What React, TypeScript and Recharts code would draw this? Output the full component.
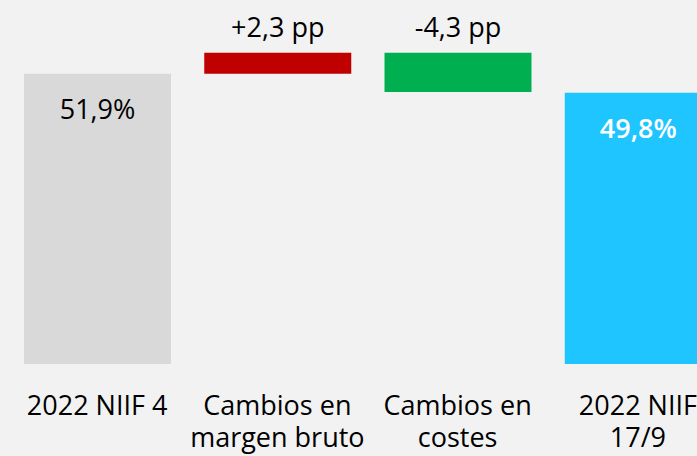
import React from 'react';
import { BarChart, Bar, XAxis, YAxis, Cell, LabelList } from 'recharts';

// Margin bridge: 2022 IFRS 4 -> 2022 IFRS 17/9
const categoryLines = [
  ['2022 NIIF 4'],
  ['Cambios en', 'margen bruto'],
  ['Cambios en', 'costes'],
  ['2022 NIIF', '17/9'],
];
const categories = categoryLines.map((lines) => lines.join(' '));
const kinds = ['total', 'delta', 'delta', 'total'];
const values = [51.9, 2.3, -4.3, 49.8];

const barColors = ['#d9d9d9', '#c00000', '#00b050', '#1fc5ff'];
const labelColors = ['#000000', '#000000', '#000000', '#ffffff'];
const labelWeights = [400, 400, 400, 600];

const AXIS_MIN = 20;
const AXIS_MAX = 60;
const FONT = '"Open Sans", "Noto Sans", sans-serif';
const FONT_SIZE = 27;
const LINE_HEIGHT = 32;

// Floating ranges for the waterfall: totals rise from the axis floor,
// deltas float between the running level before and after the change.
let level = 0;
const data = categories.map((name, i) => {
  const v = values[i];
  let range: [number, number];
  if (kinds[i] === 'total') {
    range = [AXIS_MIN, v];
    level = v;
  } else {
    const next = level + v;
    range = [Math.min(level, next), Math.max(level, next)];
    level = next;
  }
  return { name, range, value: v, kind: kinds[i] };
});

const fmt = (v: number) => v.toFixed(1).replace('.', ',');
const labelText = (i: number) => {
  const v = values[i];
  return kinds[i] === 'total' ? `${fmt(v)}%` : `${v > 0 ? '+' : ''}${fmt(v)} pp`;
};

const BarLabel = (props: any) => {
  const { x, y, width, index } = props;
  const cx = x + width / 2;
  const baseline = kinds[index] === 'total' ? y + 45 : y - 16;
  return (
    <text
      x={cx}
      y={baseline}
      textAnchor="middle"
      fontFamily={FONT}
      fontSize={FONT_SIZE}
      fontWeight={labelWeights[index]}
      fill={labelColors[index]}
    >
      {labelText(index)}
    </text>
  );
};

const CategoryTick = (props: any) => {
  const { x, y, index } = props;
  const lines = categoryLines[index] || [];
  return (
    <text
      x={x}
      y={y + 51}
      textAnchor="middle"
      fontFamily={FONT}
      fontSize={FONT_SIZE}
      fill="#000000"
    >
      {lines.map((line, k) => (
        <tspan key={k} x={x} dy={k === 0 ? 0 : LINE_HEIGHT}>
          {line}
        </tspan>
      ))}
    </text>
  );
};

export default function App() {
  return (
    <div
      style={{
        position: 'absolute',
        left: 0,
        top: 0,
        width: 697,
        height: 456,
        overflow: 'hidden',
        background: '#f2f2f2',
      }}
    >
      <BarChart
        width={730}
        height={456}
        data={data}
        margin={{ top: 0, right: 2, bottom: 0, left: 7 }}
      >
        <XAxis
          dataKey="name"
          interval={0}
          axisLine={false}
          tickLine={false}
          tickSize={0}
          tickMargin={0}
          height={92}
          tick={<CategoryTick />}
        />
        <YAxis hide type="number" domain={[AXIS_MIN, AXIS_MAX]} allowDataOverflow />
        <Bar dataKey="range" barSize={147} isAnimationActive={false}>
          {data.map((d, i) => (
            <Cell key={d.name} fill={barColors[i]} />
          ))}
          <LabelList dataKey="range" content={<BarLabel />} />
        </Bar>
      </BarChart>
    </div>
  );
}
